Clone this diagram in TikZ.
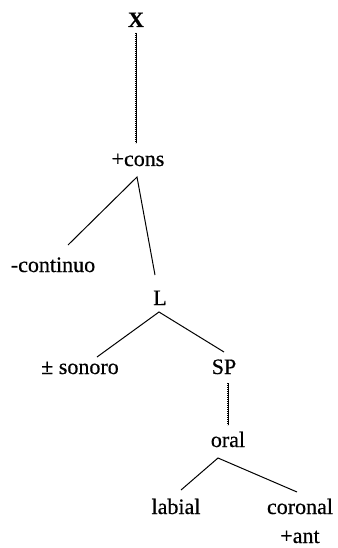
\documentclass[tikz,border=0pt]{standalone}
\usepackage{fontspec}
\setmainfont{Liberation Serif}
\newfontfamily\heavy[FakeBold=0.5]{Liberation Serif}
\usetikzlibrary{calc}
\begin{document}
\begin{tikzpicture}[x=1pt,y=-1pt,
  lab/.style={inner sep=0pt, anchor=base, font=\heavy\fontsize{22}{24}\selectfont},
  edge/.style={line width=1pt},
  dotedge/.style={line width=0.7pt, postaction={draw, line width=1.1pt, dash pattern=on 0.6pt off 1.4pt}}]
\useasboundingbox (0,0) rectangle (337,548);
\node[lab] (X) at (136,27) {\textbf{X}};
\node[lab] (cons) at (138,166) {+cons};
\node[lab] (cont) at (53,272) {-continuo};
\node[lab] (L) at (160,305) {L};
\node[lab] (son) at (80,374) {± sonoro};
\node[lab] (SP) at (224,374) {SP};
\node[lab] (oral) at (228,447) {oral};
\node[lab] (lab) at (176,514) {labial};
\node[lab] (cor) at (300,514) {coronal};
\node[lab] (ant) at (300,543) {+ant};
\draw[dotedge] ($(X.base)+(0,6)$) -- ($(X.base|-cons.base)+(0,-23)$);
\draw[edge] ($(cont.base)+(15,-27)$) -- ($(cons.base)+(-1,11)$) -- ($(L.base)+(-5,-30)$);
\draw[edge] ($(son.base)+(17,-17)$) -- ($(L.base)+(-1,7)$) -- ($(SP.base)+(0,-22)$);
\draw[dotedge] ($(SP.base)+(4,9)$) -- ($(oral.base)+(0,-22)$);
\draw[edge] ($(lab.base)+(5,-24)$) -- ($(oral.base)+(-10,11)$) -- ($(cor.base)+(-3,-22)$);
\end{tikzpicture}
\end{document}
